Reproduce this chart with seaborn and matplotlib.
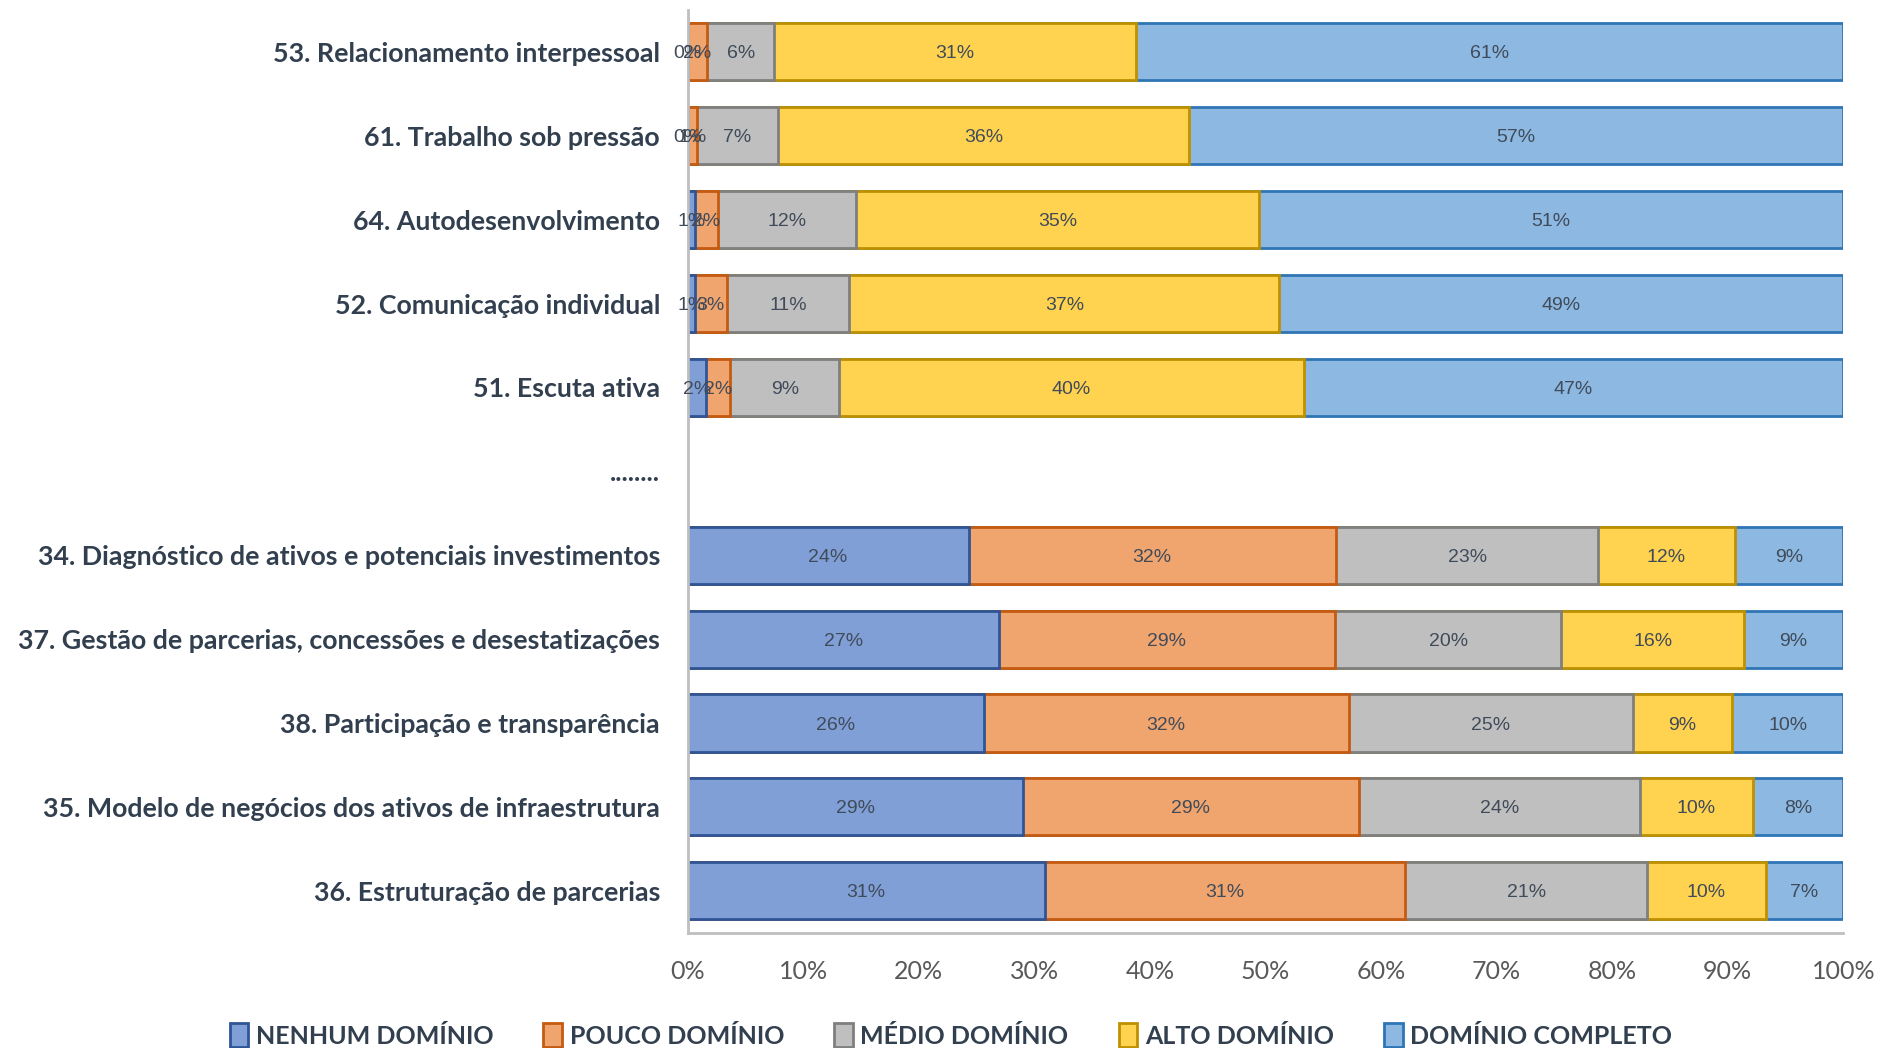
import matplotlib
matplotlib.use("Agg")
import matplotlib.pyplot as plt
import numpy as np
import pandas as pd
import seaborn as sns

# Competency levels (share of respondents, %)
competencias = [
    "53. Relacionamento interpessoal",
    "61. Trabalho sob pressão",
    "64. Autodesenvolvimento",
    "52. Comunicação individual",
    "51. Escuta ativa",
    "34. Diagnóstico de ativos e potenciais investimentos",
    "37. Gestão de parcerias, concessões e desestatizações",
    "38. Participação e transparência",
    "35. Modelo de negócios dos ativos de infraestrutura",
    "36. Estruturação de parcerias",
]
separador = "........"
ordem = competencias[:5] + [separador] + competencias[5:]

niveis = ["NENHUM DOMÍNIO", "POUCO DOMÍNIO", "MÉDIO DOMÍNIO", "ALTO DOMÍNIO", "DOMÍNIO COMPLETO"]
nenhum = [0.0, 0.0, 0.6, 0.6, 1.6, 24.3, 26.9, 25.6, 29.0, 30.9]
pouco = [1.7, 0.8, 2.0, 2.8, 2.1, 31.8, 29.1, 31.6, 29.1, 31.2]
medio = [5.8, 7.0, 12.0, 10.6, 9.4, 22.7, 19.6, 24.6, 24.3, 20.9]
alto = [31.3, 35.6, 34.8, 37.2, 40.2, 11.8, 15.8, 8.6, 9.8, 10.3]
completo = [61.2, 56.6, 50.6, 48.8, 46.7, 9.4, 8.6, 9.6, 7.8, 6.7]

preenchimento = ["#7F9FD6", "#F0A46E", "#BFBFBF", "#FFD24F", "#8DB8E1"]
contorno = ["#2F5597", "#C55A11", "#7F7F7F", "#BF9000", "#2E75B6"]
cor_texto = "#323F4F"
cor_rotulo = "#404B5A"

series = [nenhum, pouco, medio, alto, completo]
df = pd.DataFrame({"competencia": competencias})
acum = np.cumsum(np.array(series), axis=0)
for k, nome in enumerate(niveis):
    df[nome] = series[k]
    df["fim_" + str(k)] = acum[k]

sns.set_theme(style="white")
cond = ["Lato", "DejaVu Sans"]
plt.rcParams["font.family"] = ["Liberation Sans", "DejaVu Sans"]

fig = plt.figure(figsize=(18.79, 10.48), dpi=100)
ax = fig.add_axes([0.366, 0.110, 0.615, 0.8805])

# Stacked bars: draw cumulative totals from the outermost level inwards
for k in reversed(range(len(niveis))):
    sns.barplot(
        data=df, x="fim_" + str(k), y="competencia", order=ordem,
        orient="h", color=preenchimento[k], edgecolor=contorno[k],
        linewidth=2.0, width=0.68, saturation=1, errorbar=None,
        label=niveis[k], ax=ax,
    )

# Percentage labels at the centre of each segment
for i, comp in enumerate(competencias):
    pos = ordem.index(comp)
    inicio = 0.0
    for k in range(len(niveis)):
        v = series[k][i]
        ax.text(inicio + v / 2, pos, f"{v:.0f}%", ha="center", va="center_baseline",
                fontsize=14, color=cor_rotulo)
        inicio += v

ax.set_xlim(0, 100)
ax.set_ylim(len(ordem) - 0.5, -0.5)
ax.set_xticks(np.arange(0, 101, 10))
ax.set_xticklabels([f"{t}%" for t in range(0, 101, 10)])
ax.set_xlabel("")
ax.set_ylabel("")
ax.tick_params(axis="x", length=0, pad=20, labelsize=18, labelcolor="#595959")
ax.tick_params(axis="y", length=0, pad=20, labelsize=19.3, labelcolor=cor_texto)
for lbl in ax.get_xticklabels():
    lbl.set_fontfamily(cond)
for lbl in ax.get_yticklabels():
    lbl.set_fontfamily(cond)
    lbl.set_fontweight("bold")

for lado in ["top", "right"]:
    ax.spines[lado].set_visible(False)
for lado in ["left", "bottom"]:
    ax.spines[lado].set_color("#BFBFBF")
    ax.spines[lado].set_linewidth(2)

handles, labels = ax.get_legend_handles_labels()
ordem_leg = [labels.index(n) for n in niveis]
if ax.get_legend() is not None:
    ax.get_legend().remove()
leg = fig.legend(
    [handles[j] for j in ordem_leg], [labels[j] for j in ordem_leg],
    loc="center", bbox_to_anchor=(0.506, 0.012), ncol=5, frameon=False,
    handlelength=0.75, handleheight=1.1, handletextpad=0.3, columnspacing=2.0,
    prop={"family": cond, "weight": "bold", "size": 18},
)
for t in leg.get_texts():
    t.set_color(cor_texto)

fig.savefig("out.png", dpi=100)
